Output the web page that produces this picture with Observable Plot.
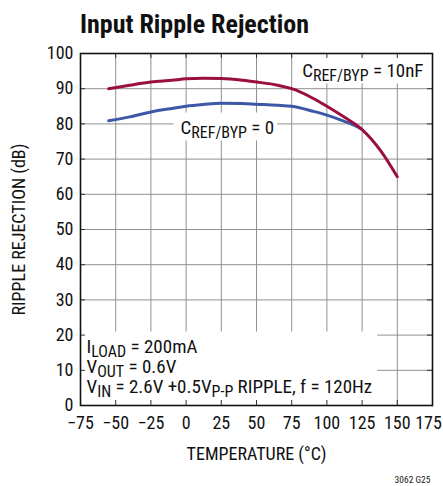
<!DOCTYPE html>
<html>
<head>
<meta charset="utf-8">
<script src="https://cdn.jsdelivr.net/npm/d3@7"></script>
<script src="https://cdn.jsdelivr.net/npm/@observablehq/plot@0.6"></script>
<style>
  body { margin: 0; background: #fff; }
  #wrap { width: 443px; font-family: "Roboto Condensed", "Roboto", sans-serif; }
  #title { height: 40px; box-sizing: border-box; padding-left: 80px; padding-top: 10px; font-size: 26px; line-height: 28px; font-weight: bold; color: #111; }
  svg { display: block; }
</style>
</head>
<body>
<div id="wrap">
  <div id="title">Input Ripple Rejection</div>
</div>
<script>
// ---- data ----
const tempsRed  = [-55, -40, -25, -10, 0, 12, 25, 40, 50, 65, 75, 90, 100, 112, 125, 138, 150];
const rejRed    = [90, 91, 91.9, 92.4, 92.8, 93, 92.9, 92.4, 91.9, 91, 90, 87.3, 85, 82, 78.4, 72.5, 65];
const tempsBlue = [-55, -40, -25, -10, 0, 12, 25, 40, 50, 65, 75, 90, 100, 112, 120, 125];
const rejBlue   = [80.9, 82, 83.4, 84.4, 85, 85.5, 85.9, 85.8, 85.6, 85.3, 85, 83.6, 82.5, 80.8, 79.5, 78.4];
const xTicks = [-75, -50, -25, 0, 25, 50, 75, 100, 125, 150, 175];
const yTicks = [0, 10, 20, 30, 40, 50, 60, 70, 80, 90, 100];
const xLabel = "TEMPERATURE (°C)";
const yLabel = "RIPPLE REJECTION (dB)";
const noteTopRight = [["C"], ["REF/BYP", 1], [" = 10nF"]];
const noteMiddle   = [["C"], ["REF/BYP", 1], [" = 0"]];
const noteLine1 = [["I"], ["LOAD", 1], [" = 200mA"]];
const noteLine2 = [["V"], ["OUT", 1], [" = 0.6V"]];
const noteLine3 = [["V"], ["IN", 1], [" = 2.6V +0.5V"], ["P-P", 1], [" RIPPLE, f = 120Hz"]];
const figId = "3062 G25";

const RED = "#9b0f3f", BLUE = "#3d58a7", GRID = "#8f8f8f";
const FONT = 18, NOTE = 19, SUB = 16, SHIFT = 4;
const FAMILY = '"Roboto Condensed", "Roboto", sans-serif';
const W = 443, H = 446, ML = 80, MR = 11, MT = 13, MB = 81;
const PW = W - ML - MR, PH = H - MT - MB;

const red = tempsRed.map((t, i) => ({t, v: rejRed[i]}));
const blue = tempsBlue.map((t, i) => ({t, v: rejBlue[i]}));
const plain = parts => parts.map(p => p[0]).join("");
const textOpts = {fontSize: NOTE, fill: "#111", stroke: null};

const plot = Plot.plot({
  width: W, height: H,
  marginLeft: ML, marginRight: MR, marginTop: MT, marginBottom: MB,
  style: {fontFamily: FAMILY, background: "#fff", color: "#111"},
  x: {domain: [-75, 175]},
  y: {domain: [0, 100]},
  marks: [
    Plot.gridX(xTicks, {stroke: GRID, strokeOpacity: 1, strokeWidth: 1}),
    Plot.gridY(yTicks, {stroke: GRID, strokeOpacity: 1, strokeWidth: 1}),
    Plot.tickX(xTicks, {x: d => d, insetTop: PH - 5, stroke: "#333", strokeWidth: 1}),
    Plot.tickX(xTicks, {x: d => d, insetBottom: PH - 5, stroke: "#333", strokeWidth: 1}),
    Plot.tickY(yTicks, {y: d => d, insetRight: PW - 5, stroke: "#333", strokeWidth: 1}),
    Plot.tickY(yTicks, {y: d => d, insetLeft: PW - 5, stroke: "#333", strokeWidth: 1}),
    Plot.frame({stroke: "#111", strokeWidth: 1.6}),
    Plot.line(blue, {x: "t", y: "v", stroke: BLUE, strokeWidth: 3, curve: "monotone-x"}),
    Plot.line(red, {x: "t", y: "v", stroke: RED, strokeWidth: 3, curve: "monotone-x"}),
    Plot.axisX(xTicks, {tickSize: 0, tickPadding: 11, fontSize: FONT, label: xLabel, labelAnchor: "center", labelOffset: 54, labelArrow: "none"}),
    Plot.axisY(yTicks, {tickSize: 0, tickPadding: 7, fontSize: FONT, label: yLabel, labelAnchor: "center", labelOffset: 68, labelArrow: "none"}),
    Plot.text([plain(noteTopRight)], {...textOpts, text: d => d, frameAnchor: "top-right", textAnchor: "end", lineAnchor: "bottom", dx: -9, dy: 23}),
    Plot.text([plain(noteMiddle)], {...textOpts, text: d => d, frameAnchor: "top-left", textAnchor: "start", lineAnchor: "bottom", dx: 100, dy: 80}),
    Plot.text([plain(noteLine1)], {...textOpts, text: d => d, frameAnchor: "bottom-left", textAnchor: "start", lineAnchor: "bottom", dx: 6, dy: -53}),
    Plot.text([plain(noteLine2)], {...textOpts, text: d => d, frameAnchor: "bottom-left", textAnchor: "start", lineAnchor: "bottom", dx: 6, dy: -33}),
    Plot.text([plain(noteLine3)], {...textOpts, text: d => d, frameAnchor: "bottom-left", textAnchor: "start", lineAnchor: "bottom", dx: 6, dy: -13}),
    Plot.text([figId], {fill: "#222", stroke: null, fontSize: 9.5, text: d => d, frameAnchor: "bottom-right", textAnchor: "end", lineAnchor: "bottom", dx: -2, dy: 77})
  ]
});

document.getElementById("wrap").appendChild(plot);
const svg = plot;
const NS = "http://www.w3.org/2000/svg";
try {
  const allTexts = Array.from(svg.querySelectorAll("text"));
  const findText = s => allTexts.find(t => t.textContent === s);
  // the last x tick label is nudged so it stays inside the picture's right edge
  const t175 = findText("175");
  if (t175) t175.setAttribute("dx", -4);
  function richify(parts) {
    const t = findText(plain(parts));
    if (!t) return null;
    t.textContent = "";
    let shifted = false;
    for (const [s, sub] of parts) {
      const ts = document.createElementNS(NS, "tspan");
      ts.textContent = s;
      if (sub) { ts.setAttribute("font-size", SUB); if (!shifted) ts.setAttribute("dy", SHIFT); shifted = true; }
      else if (shifted) { ts.setAttribute("dy", -SHIFT); shifted = false; }
      t.appendChild(ts);
    }
    return t;
  }
  const tTR = richify(noteTopRight), tMid = richify(noteMiddle);
  const tB1 = richify(noteLine1), tB2 = richify(noteLine2), tB3 = richify(noteLine3);
  const svgRect = svg.getBoundingClientRect();
  function bboxOf(els) {
    let x1 = Infinity, y1 = Infinity, x2 = -Infinity, y2 = -Infinity;
    for (const el of els) {
      const r = el.getBoundingClientRect();
      x1 = Math.min(x1, r.left - svgRect.left); y1 = Math.min(y1, r.top - svgRect.top);
      x2 = Math.max(x2, r.right - svgRect.left); y2 = Math.max(y2, r.bottom - svgRect.top);
    }
    return {x1, y1, x2, y2};
  }
  // white boxes behind the annotations, above the grid but below ticks, frame and curves
  let anchorEl = svg.querySelector('[aria-label="y-grid"]');
  function whiteBox(b) {
    const r = document.createElementNS(NS, "rect");
    r.setAttribute("x", b.x1); r.setAttribute("y", b.y1);
    r.setAttribute("width", Math.max(0, b.x2 - b.x1)); r.setAttribute("height", Math.max(0, b.y2 - b.y1));
    r.setAttribute("fill", "#fff");
    anchorEl.after(r);
    anchorEl = r;
  }
  const fL = ML, fR = W - MR, fT = MT, fB = H - MB;
  if (anchorEl) {
    if (tTR) { const b = bboxOf([tTR]); whiteBox({x1: b.x1 - 9, y1: fT, x2: fR, y2: b.y2 - 1}); }
    if (tMid) { const b = bboxOf([tMid]); whiteBox({x1: b.x1 - 7, y1: b.y1 - 3, x2: b.x2 + 3, y2: b.y2 - 1}); }
    if (tB1) { const b = bboxOf([tB1, tB2, tB3]); whiteBox({x1: fL, y1: b.y1 - 3, x2: b.x2 + 5, y2: fB}); }
  }
} catch (e) { /* leave plain labels if measuring fails */ }
</script>
</body>
</html>
